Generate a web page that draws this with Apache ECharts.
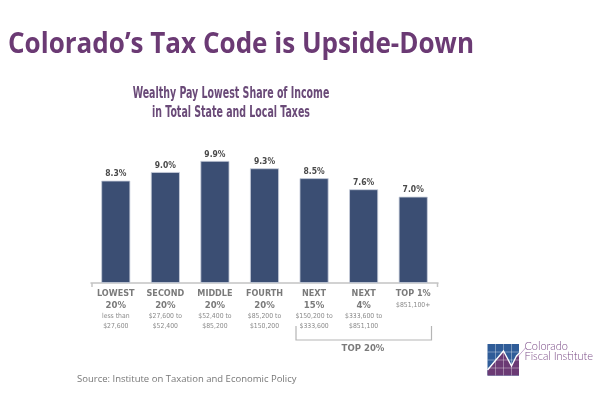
<!DOCTYPE html>
<html>
<head>
<meta charset="utf-8">
<script src="https://cdn.jsdelivr.net/npm/echarts@6/dist/echarts.min.js"></script>
<style>html,body{margin:0;padding:0;background:#fff}#c{width:600px;height:400px}</style>
</head>
<body>
<div id="c"></div>
<script>
var groupNames = ['LOWEST', 'SECOND', 'MIDDLE', 'FOURTH', 'NEXT', 'NEXT', 'TOP 1%'];
var groupShares = ['20%', '20%', '20%', '20%', '15%', '4%', ''];
var incomeRanges = ['less than\n$27,600', '$27,600 to\n$52,400', '$52,400 to\n$85,200', '$85,200 to\n$150,200', '$150,200 to\n$333,600', '$333,600 to\n$851,100', '$851,100+'];
var taxShares = [8.3, 9.0, 9.9, 9.3, 8.5, 7.6, 7.0];
var titleText = 'Colorado\u2019s Tax Code is Upside-Down';
var subtitleText = 'Wealthy Pay Lowest Share of Income\nin Total State and Local Taxes';
var sourceText = 'Source: Institute on Taxation and Economic Policy';
var bracketText = 'TOP 20%';

var condensed = "'DejaVu Sans Condensed','Liberation Sans Narrow',sans-serif";
var categories = groupNames.map(function (n, i) { return i; });

var chart = echarts.init(document.getElementById('c'), null, {renderer: 'canvas'});
chart.setOption({
  animation: false,
  backgroundColor: '#fff',
  title: [
    {text: sourceText, left: 72, top: 369, padding: 5, textStyle: {fontFamily: "'Open Sans',sans-serif", fontWeight: 'normal', fontSize: 9.5, color: '#777'}}
  ],
  grid: {left: 91, right: 162, top: 159.7, bottom: 117, containLabel: false},
  xAxis: {
    type: 'category', data: categories,
    axisLine: {lineStyle: {color: '#c4c4c4', width: 1.5}},
    axisTick: {show: false},
    axisLabel: {
      interval: 0, margin: 5,
      formatter: function (v) {
        var i = +v;
        var s = '{n|' + groupNames[i] + '}';
        if (groupShares[i]) s += '\n{p|' + groupShares[i] + '}';
        var r = incomeRanges[i].split('\n');
        for (var k = 0; k < r.length; k++) s += '\n{r|' + r[k] + '}';
        return s;
      },
      rich: {
        n: {fontFamily: condensed, fontWeight: 'bold', fontSize: 9, color: '#7a7a7a', lineHeight: 12},
        p: {fontFamily: condensed, fontWeight: 'bold', fontSize: 9.5, color: '#7a7a7a', lineHeight: 11.5},
        r: {fontFamily: condensed, fontSize: 6.8, color: '#8a8a8a', lineHeight: 9.5}
      }
    }
  },
  yAxis: {type: 'value', min: 0, max: 10, show: false, splitLine: {show: false}},
  series: [{
    type: 'bar', data: taxShares, barWidth: 29,
    itemStyle: {color: '#3b4e73', borderColor: '#c9cfdc', borderWidth: 0.8},
    label: {show: true, position: 'top', distance: 2, formatter: function (p) { return p.value.toFixed(1) + '%'; },
      fontFamily: condensed, fontWeight: 'bold', fontSize: 8.5, color: '#4a4a4a'}
  }],
  graphic: [
    {type: 'text', x: 8, y: 31, scaleX: 0.93, style: {text: titleText, font: "bold 28px 'Open Sans',sans-serif", fill: '#6b3a74', textAlign: 'left', textVerticalAlign: 'top'}},
    {type: 'text', x: 231, y: 85, scaleX: 0.7, style: {text: subtitleText, font: "bold 15px 'DejaVu Sans Condensed',sans-serif", lineHeight: 19, fill: '#6a4a78', textAlign: 'center', textVerticalAlign: 'top'}},
    {type: 'line', shape: {x1: 92, y1: 283, x2: 92, y2: 287}, style: {stroke: '#c4c4c4', lineWidth: 1.5}},
    {type: 'line', shape: {x1: 437.5, y1: 283, x2: 437.5, y2: 287}, style: {stroke: '#c4c4c4', lineWidth: 1.5}},
    {type: 'polyline', shape: {points: [[296, 326], [296, 340], [431.5, 340], [431.5, 326]]}, style: {stroke: '#b5b5b5', lineWidth: 1.2, fill: null}},
    {type: 'text', x: 363, y: 344, style: {text: bracketText, font: "bold 9.5px 'DejaVu Sans Condensed',sans-serif", fill: '#7a7a7a', textAlign: 'center', textVerticalAlign: 'top'}},
    // logo
    {type: 'group', left: 485, top: 340.5, children: [
      {type: 'rect', shape: {x: 0, y: 0, width: 31.5, height: 31.5}, style: {fill: '#2f5c98'}},
      {type: 'polygon', shape: {points: [[0, 26], [16, 7], [24, 22], [29, 12], [31.5, 10], [31.5, 31.5], [0, 31.5]]}, style: {fill: '#6b3a74'}},
      {type: 'polyline', shape: {points: [[0, 26], [16, 7], [24, 22], [29, 12], [36, 5]]}, style: {stroke: '#fff', lineWidth: 1.3, fill: null}},
      {type: 'polyline', shape: {points: [[30, 13], [38, 4]]}, style: {stroke: '#b48fbf', lineWidth: 0.8, fill: null}},
      {type: 'line', shape: {x1: 8, y1: 0, x2: 8, y2: 31.5}, style: {stroke: 'rgba(255,255,255,0.6)', lineWidth: 0.6}},
      {type: 'line', shape: {x1: 16, y1: 0, x2: 16, y2: 31.5}, style: {stroke: 'rgba(255,255,255,0.6)', lineWidth: 0.6}},
      {type: 'line', shape: {x1: 24, y1: 0, x2: 24, y2: 31.5}, style: {stroke: 'rgba(255,255,255,0.6)', lineWidth: 0.6}},
      {type: 'line', shape: {x1: 0, y1: 8, x2: 31.5, y2: 8}, style: {stroke: 'rgba(255,255,255,0.6)', lineWidth: 0.6}},
      {type: 'line', shape: {x1: 0, y1: 16, x2: 31.5, y2: 16}, style: {stroke: 'rgba(255,255,255,0.6)', lineWidth: 0.6}},
      {type: 'line', shape: {x1: 0, y1: 24, x2: 31.5, y2: 24}, style: {stroke: 'rgba(255,255,255,0.6)', lineWidth: 0.6}},
      {type: 'text', x: 37, y: -3, style: {text: 'Colorado\nFiscal Institute', font: "300 11px 'Lato','Open Sans',sans-serif", lineHeight: 10, fill: '#7a4a86'}}
    ]}
  ]
});
</script>
</body>
</html>
